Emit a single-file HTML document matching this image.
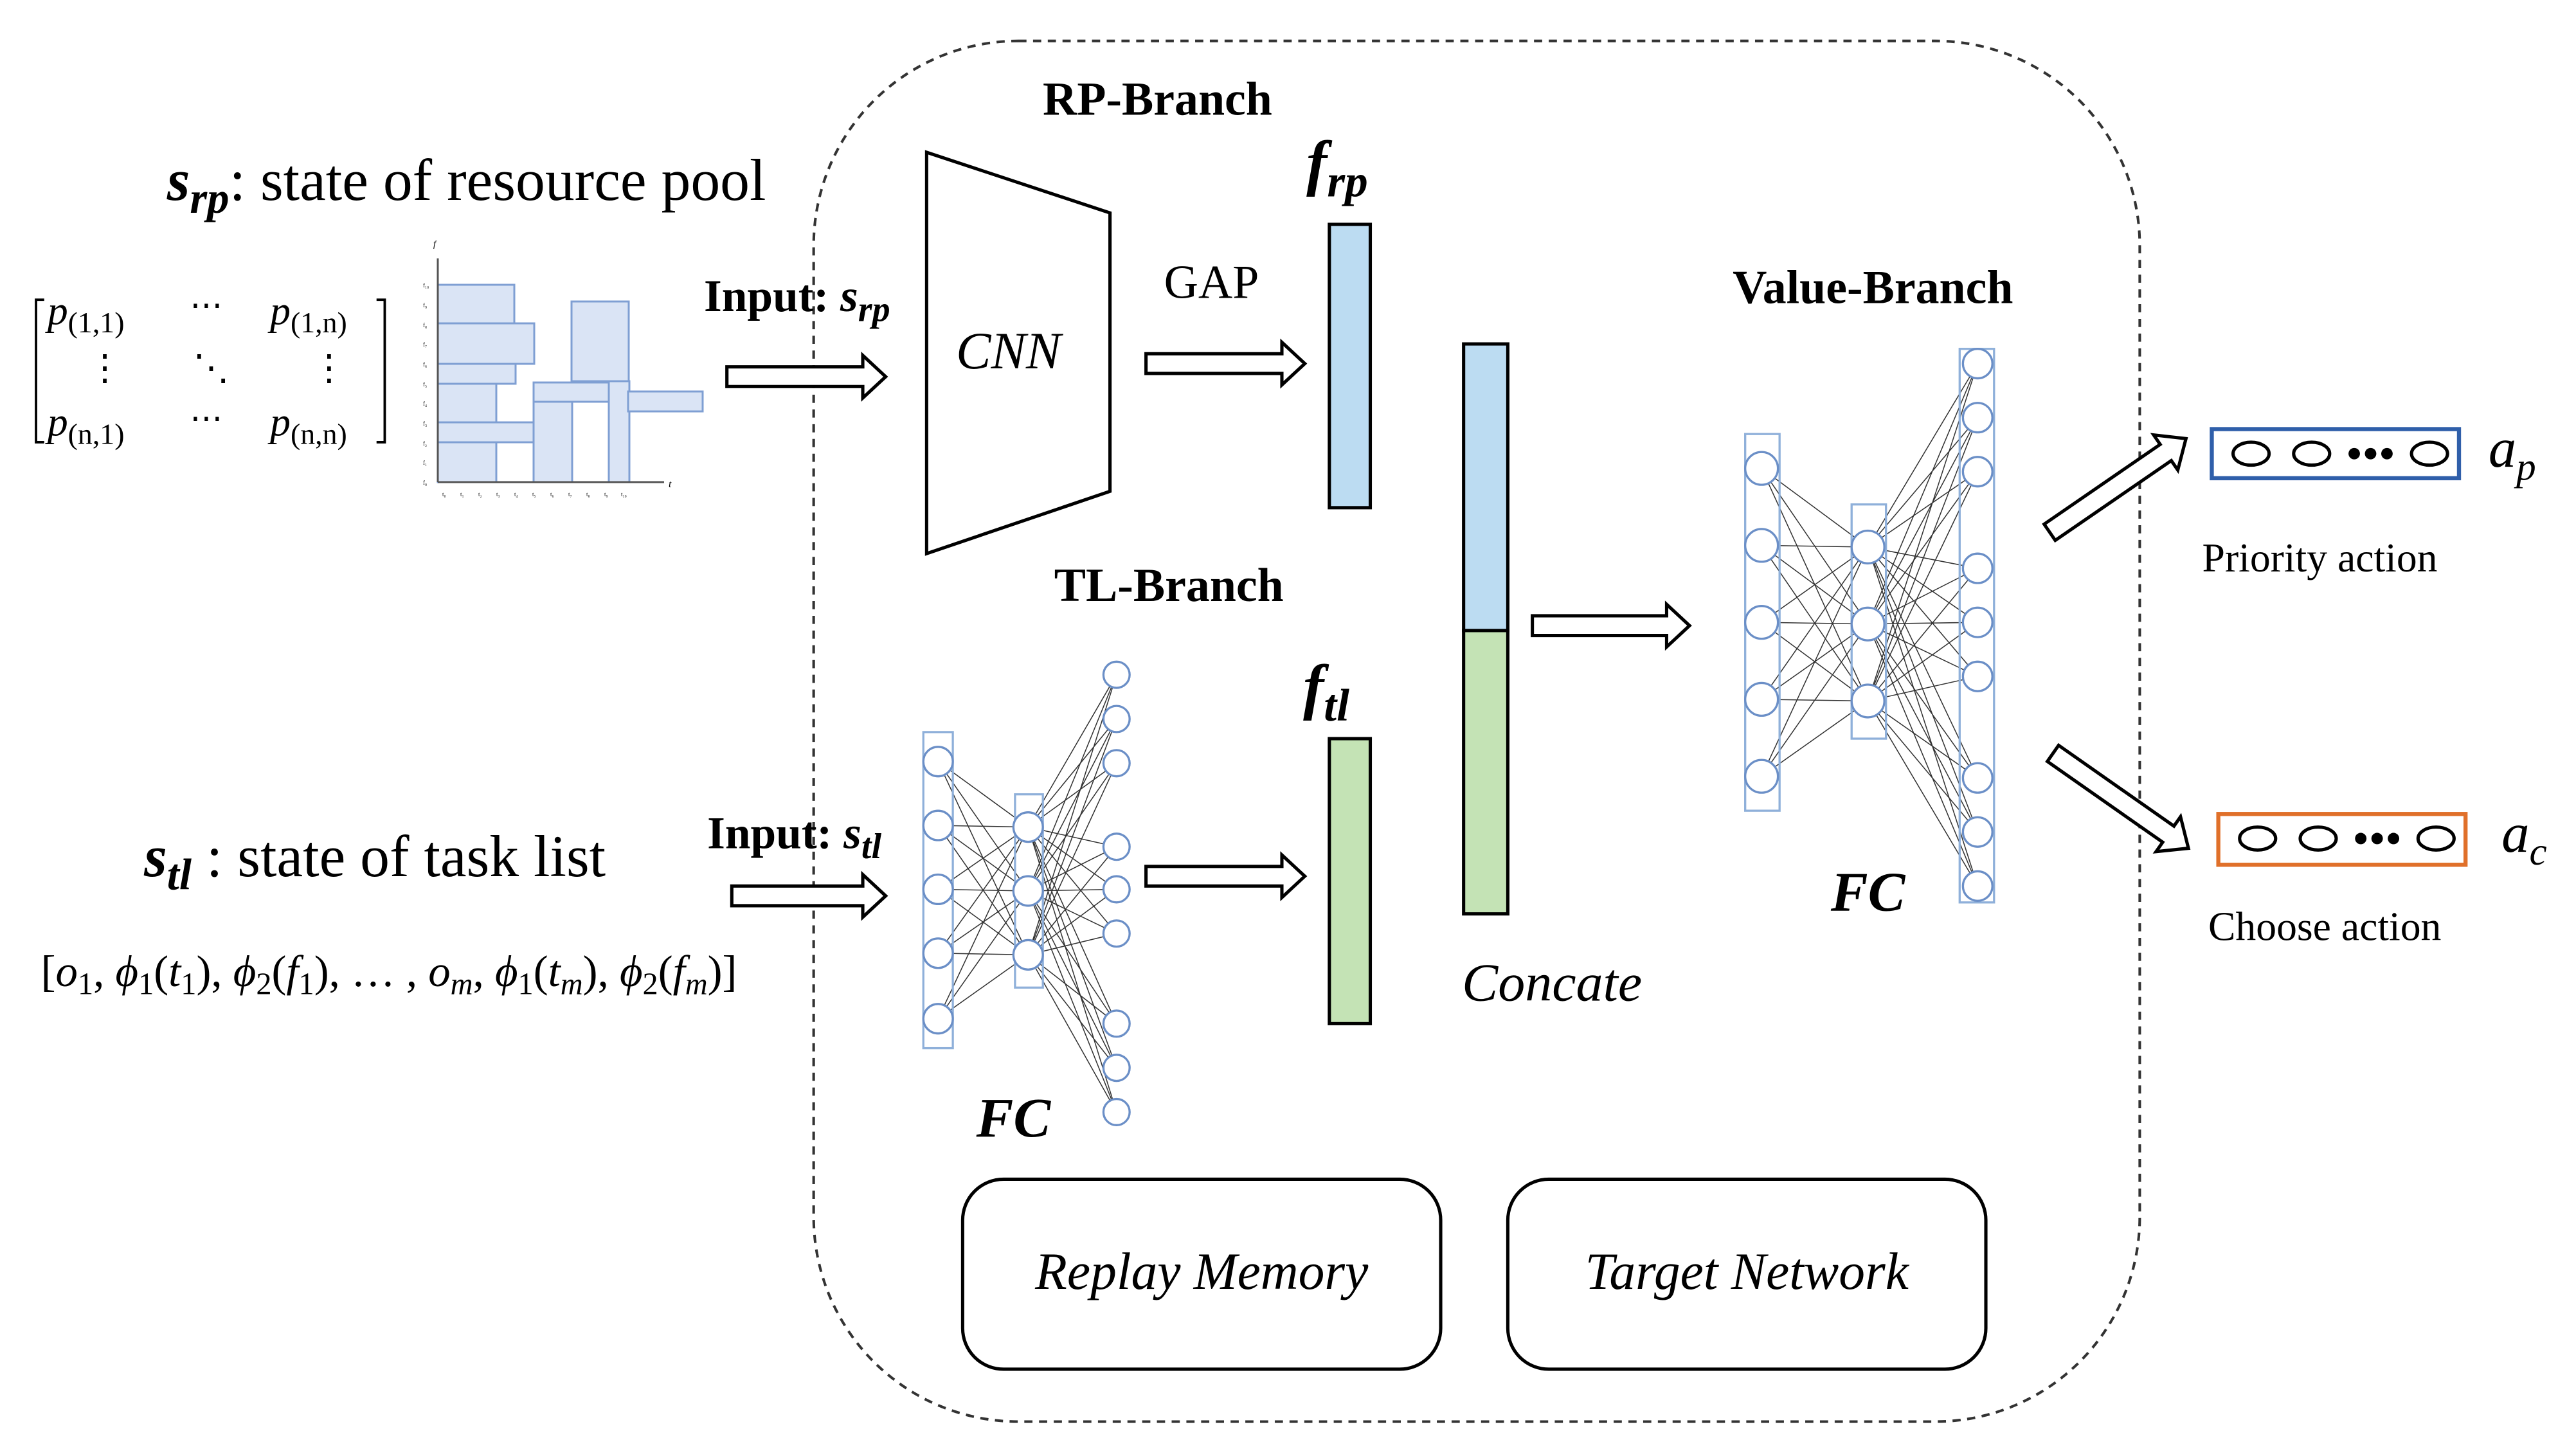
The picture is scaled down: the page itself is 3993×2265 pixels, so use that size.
<!DOCTYPE html>
<html><head><meta charset="utf-8"><style>
html,body{margin:0;padding:0;background:#fff;}
svg{display:block}
text{font-family:"Liberation Serif",serif;fill:#000}
</style></head><body>
<svg width="3993" height="2265" viewBox="0 0 3993 2265" xmlns="http://www.w3.org/2000/svg">
<rect width="3993" height="2265" fill="#fff"/>
<g fill="#dae4f5" stroke="#7f9fd3" stroke-width="3">
<rect x="681" y="443" width="119" height="60"/>
<rect x="681" y="503" width="150" height="63"/>
<rect x="681" y="566" width="121" height="31"/>
<rect x="681" y="597" width="91" height="60"/>
<rect x="681" y="657" width="149" height="31"/>
<rect x="681" y="688" width="91" height="62"/>
<rect x="830" y="625" width="60" height="125"/>
<rect x="830" y="595" width="118" height="30"/>
<rect x="889" y="469" width="89" height="124"/>
<rect x="947" y="593" width="32" height="157"/>
<rect x="977" y="609" width="116" height="31"/>
</g>
<g stroke="#555" stroke-width="3"><line x1="681" y1="402" x2="681" y2="750"/><line x1="681" y1="750" x2="1033" y2="750"/></g>
<text x="674" y="384" font-size="14" font-style="italic">f</text>
<text x="1040" y="758" font-size="16" font-style="italic">t</text>
<g font-size="9" fill="#888">
<text x="658" y="447">f₁₀</text><text x="658" y="478">f₉</text><text x="658" y="509">f₈</text><text x="658" y="539">f₇</text><text x="658" y="570">f₆</text><text x="658" y="601">f₅</text><text x="658" y="631">f₄</text><text x="658" y="662">f₃</text><text x="658" y="693">f₂</text><text x="658" y="723">f₁</text><text x="658" y="754">f₀</text>
<text x="688" y="772">t₀</text><text x="716" y="772">t₁</text><text x="744" y="772">t₂</text><text x="772" y="772">t₃</text><text x="800" y="772">t₄</text><text x="828" y="772">t₅</text><text x="856" y="772">t₆</text><text x="884" y="772">t₇</text><text x="912" y="772">t₈</text><text x="940" y="772">t₉</text><text x="966" y="772">t₁₀</text>
</g>
<g transform="scale(2.5466,2.5478)">
<rect x="497" y="25" width="810" height="843" rx="125" fill="none" stroke="#333" stroke-width="1.6" stroke-dasharray="5,4"/>
<text x="707" y="70" font-size="29" font-weight="bold" text-anchor="middle">RP-Branch</text>
<text x="714" y="367" font-size="29" font-weight="bold" text-anchor="middle">TL-Branch</text>
<text x="1144" y="185" font-size="29" font-weight="bold" text-anchor="middle">Value-Branch</text>
<polygon points="566,93 678,130 678,300 566,338" fill="#fff" stroke="#000" stroke-width="2"/>
<text x="616" y="225" font-size="32" font-style="italic" text-anchor="middle">CNN</text>
<text x="740" y="182" font-size="29" text-anchor="middle">GAP</text>
<g fill="#fff" stroke="#000" stroke-width="2">
<polygon points="444,224 527,224 527,217 541,230 527,243 527,236 444,236"/>
<polygon points="700,216 783,216 783,209 797,222 783,235 783,228 700,228"/>
<polygon points="447,541 527,541 527,534 541,547 527,560 527,553 447,553"/>
<polygon points="700,529 783,529 783,522 797,535 783,548 783,541 700,541"/>
<polygon points="936,376 1018,376 1018,369 1032,382 1018,395 1018,388 936,388"/>
<g transform="translate(1252,325) rotate(-34.5)"><polygon points="0,-6 86,-6 86,-13 101,0 86,13 86,6 0,6"/></g>
<g transform="translate(1254,460) rotate(35)"><polygon points="0,-6 86,-6 86,-13 101,0 86,13 86,6 0,6"/></g>
</g>
<rect x="812" y="137" width="25" height="173" fill="#bcdcf2" stroke="#000" stroke-width="2"/>
<rect x="812" y="451" width="25" height="174" fill="#c4e3b5" stroke="#000" stroke-width="2"/>
<rect x="894" y="210" width="27" height="175" fill="#bcdcf2" stroke="#000" stroke-width="2"/>
<rect x="894" y="385" width="27" height="173" fill="#c4e3b5" stroke="#000" stroke-width="2"/>
<text x="798" y="112" font-size="38" font-weight="bold" font-style="italic">f<tspan font-size="28" dy="8">rp</tspan></text>
<text x="796" y="432" font-size="38" font-weight="bold" font-style="italic">f<tspan font-size="28" dy="8">tl</tspan></text>
<text x="948" y="611" font-size="33" font-style="italic" text-anchor="middle">Concate</text>
<!-- Value FC lines -->
<g stroke="#333" stroke-width="0.6">
<path d="M1076,286L1141,334M1076,286L1141,381M1076,286L1141,428M1076,333L1141,334M1076,333L1141,381M1076,333L1141,428M1076,380L1141,334M1076,380L1141,381M1076,380L1141,428M1076,427L1141,334M1076,427L1141,381M1076,427L1141,428M1076,474L1141,334M1076,474L1141,381M1076,474L1141,428"/>
<path d="M1141,334L1208,222M1141,334L1208,255M1141,334L1208,288M1141,334L1208,347M1141,334L1208,380M1141,334L1208,413M1141,334L1208,475M1141,334L1208,508M1141,334L1208,541
M1141,381L1208,222M1141,381L1208,255M1141,381L1208,288M1141,381L1208,347M1141,381L1208,380M1141,381L1208,413M1141,381L1208,475M1141,381L1208,508M1141,381L1208,541
M1141,428L1208,222M1141,428L1208,255M1141,428L1208,288M1141,428L1208,347M1141,428L1208,380M1141,428L1208,413M1141,428L1208,475M1141,428L1208,508M1141,428L1208,541"/>
<path d="M573,465L628,505M573,465L628,544M573,465L628,583M573,504L628,505M573,504L628,544M573,504L628,583M573,543L628,505M573,543L628,544M573,543L628,583M573,582L628,505M573,582L628,544M573,582L628,583M573,622L628,505M573,622L628,544M573,622L628,583"/>
<path d="M628,505L682,412M628,505L682,439M628,505L682,466M628,505L682,517M628,505L682,543M628,505L682,570M628,505L682,625M628,505L682,652M628,505L682,679
M628,544L682,412M628,544L682,439M628,544L682,466M628,544L682,517M628,544L682,543M628,544L682,570M628,544L682,625M628,544L682,652M628,544L682,679
M628,583L682,412M628,583L682,439M628,583L682,466M628,583L682,517M628,583L682,543M628,583L682,570M628,583L682,625M628,583L682,652M628,583L682,679"/>
</g>
<g fill="none" stroke="#8fb0da" stroke-width="1.3">
<rect x="1066" y="265" width="21" height="230"/><rect x="1131" y="308" width="21" height="143"/><rect x="1197" y="213" width="21" height="338"/>
<rect x="564" y="447" width="18" height="193"/><rect x="620" y="485" width="17" height="118"/>
</g>
<g fill="#fff" stroke="#6b8fc7" stroke-width="1.3">
<circle cx="1076" cy="286" r="10"/><circle cx="1076" cy="333" r="10"/><circle cx="1076" cy="380" r="10"/><circle cx="1076" cy="427" r="10"/><circle cx="1076" cy="474" r="10"/>
<circle cx="1141" cy="334" r="10"/><circle cx="1141" cy="381" r="10"/><circle cx="1141" cy="428" r="10"/>
<circle cx="1208" cy="222" r="9"/><circle cx="1208" cy="255" r="9"/><circle cx="1208" cy="288" r="9"/><circle cx="1208" cy="347" r="9"/><circle cx="1208" cy="380" r="9"/><circle cx="1208" cy="413" r="9"/><circle cx="1208" cy="475" r="9"/><circle cx="1208" cy="508" r="9"/><circle cx="1208" cy="541" r="9"/>
<circle cx="573" cy="465" r="9"/><circle cx="573" cy="504" r="9"/><circle cx="573" cy="543" r="9"/><circle cx="573" cy="582" r="9"/><circle cx="573" cy="622" r="9"/>
<circle cx="628" cy="505" r="9"/><circle cx="628" cy="544" r="9"/><circle cx="628" cy="583" r="9"/>
<circle cx="682" cy="412" r="8"/><circle cx="682" cy="439" r="8"/><circle cx="682" cy="466" r="8"/><circle cx="682" cy="517" r="8"/><circle cx="682" cy="543" r="8"/><circle cx="682" cy="570" r="8"/><circle cx="682" cy="625" r="8"/><circle cx="682" cy="652" r="8"/><circle cx="682" cy="679" r="8"/>
</g>
<text x="1141" y="556" font-size="34" font-weight="bold" font-style="italic" text-anchor="middle">FC</text>
<text x="619" y="694" font-size="34" font-weight="bold" font-style="italic" text-anchor="middle">FC</text>
<rect x="588" y="720" width="292" height="116" rx="25" fill="none" stroke="#000" stroke-width="2"/>
<rect x="921" y="720" width="292" height="116" rx="25" fill="none" stroke="#000" stroke-width="2"/>
<text x="734" y="787" font-size="32" font-style="italic" text-anchor="middle">Replay Memory</text>
<text x="1067" y="787" font-size="32" font-style="italic" text-anchor="middle">Target Network</text>
<rect x="1351" y="262" width="151" height="30" fill="none" stroke="#2f5faa" stroke-width="2.5"/>
<rect x="1355" y="497" width="151" height="31" fill="none" stroke="#e0702a" stroke-width="2.5"/>
<g fill="none" stroke="#000" stroke-width="2">
<ellipse cx="1375" cy="277" rx="11" ry="7"/><ellipse cx="1412" cy="277" rx="11" ry="7"/><ellipse cx="1484" cy="277" rx="11" ry="7"/>
<ellipse cx="1379" cy="512" rx="11" ry="7"/><ellipse cx="1416" cy="512" rx="11" ry="7"/><ellipse cx="1488" cy="512" rx="11" ry="7"/>
</g>
<g fill="#000"><circle cx="1438" cy="277" r="3.5"/><circle cx="1448" cy="277" r="3.5"/><circle cx="1458" cy="277" r="3.5"/>
<circle cx="1442" cy="512" r="3.5"/><circle cx="1452" cy="512" r="3.5"/><circle cx="1462" cy="512" r="3.5"/></g>
<text x="1520" y="285" font-size="34" font-style="italic">a<tspan font-size="24" dy="8">p</tspan></text>
<text x="1528" y="520" font-size="34" font-style="italic">a<tspan font-size="24" dy="8">c</tspan></text>
<text x="1417" y="349" font-size="25" text-anchor="middle">Priority action</text>
<text x="1420" y="574" font-size="25" text-anchor="middle">Choose action</text>
<text x="102" y="122" font-size="36"><tspan font-weight="bold" font-style="italic">s</tspan><tspan font-weight="bold" font-style="italic" font-size="27" dy="8">rp</tspan><tspan dy="-8">: state of resource pool</tspan></text>
<text x="430" y="190" font-size="28" font-weight="bold">Input: <tspan font-style="italic">s</tspan><tspan font-style="italic" font-size="22" dy="6">rp</tspan></text>
<text x="432" y="518" font-size="28" font-weight="bold">Input: <tspan font-style="italic">s</tspan><tspan font-style="italic" font-size="22" dy="6">tl</tspan></text>
<text x="88" y="535" font-size="36"><tspan font-weight="bold" font-style="italic">s</tspan><tspan font-weight="bold" font-style="italic" font-size="27" dy="8">tl</tspan><tspan dy="-8"> : state of task list</tspan></text>
<text x="25" y="602" font-size="27">[<tspan font-style="italic">o</tspan><tspan font-size="19" dy="5">1</tspan><tspan dy="-5">, </tspan><tspan font-style="italic">ϕ</tspan><tspan font-size="19" dy="5">1</tspan><tspan dy="-5">(</tspan><tspan font-style="italic">t</tspan><tspan font-size="19" dy="5">1</tspan><tspan dy="-5">), </tspan><tspan font-style="italic">ϕ</tspan><tspan font-size="19" dy="5">2</tspan><tspan dy="-5">(</tspan><tspan font-style="italic">f</tspan><tspan font-size="19" dy="5">1</tspan><tspan dy="-5">), … , </tspan><tspan font-style="italic">o</tspan><tspan font-size="19" font-style="italic" dy="5">m</tspan><tspan dy="-5">, </tspan><tspan font-style="italic">ϕ</tspan><tspan font-size="19" dy="5">1</tspan><tspan dy="-5">(</tspan><tspan font-style="italic">t</tspan><tspan font-size="19" font-style="italic" dy="5">m</tspan><tspan dy="-5">), </tspan><tspan font-style="italic">ϕ</tspan><tspan font-size="19" dy="5">2</tspan><tspan dy="-5">(</tspan><tspan font-style="italic">f</tspan><tspan font-size="19" font-style="italic" dy="5">m</tspan><tspan dy="-5">)]</tspan></text>
<polyline points="27,183 22,183 22,270 27,270" fill="none" stroke="#000" stroke-width="1.5"/>
<polyline points="230,183 235,183 235,270 230,270" fill="none" stroke="#000" stroke-width="1.5"/>
<text x="29" y="198" font-size="25" font-style="italic">p<tspan font-style="normal" font-size="18" dy="5">(1,1)</tspan></text>
<text x="165" y="198" font-size="25" font-style="italic">p<tspan font-style="normal" font-size="18" dy="5">(1,n)</tspan></text>
<text x="29" y="266" font-size="25" font-style="italic">p<tspan font-style="normal" font-size="18" dy="5">(n,1)</tspan></text>
<text x="165" y="266" font-size="25" font-style="italic">p<tspan font-style="normal" font-size="18" dy="5">(n,n)</tspan></text>
<text x="116" y="193" font-size="20">⋯</text><text x="116" y="262" font-size="20">⋯</text>
<text x="53" y="232" font-size="22">⋮</text><text x="190" y="232" font-size="22">⋮</text><text x="118" y="232" font-size="22">⋱</text>
</g>
</svg>
</body></html>
